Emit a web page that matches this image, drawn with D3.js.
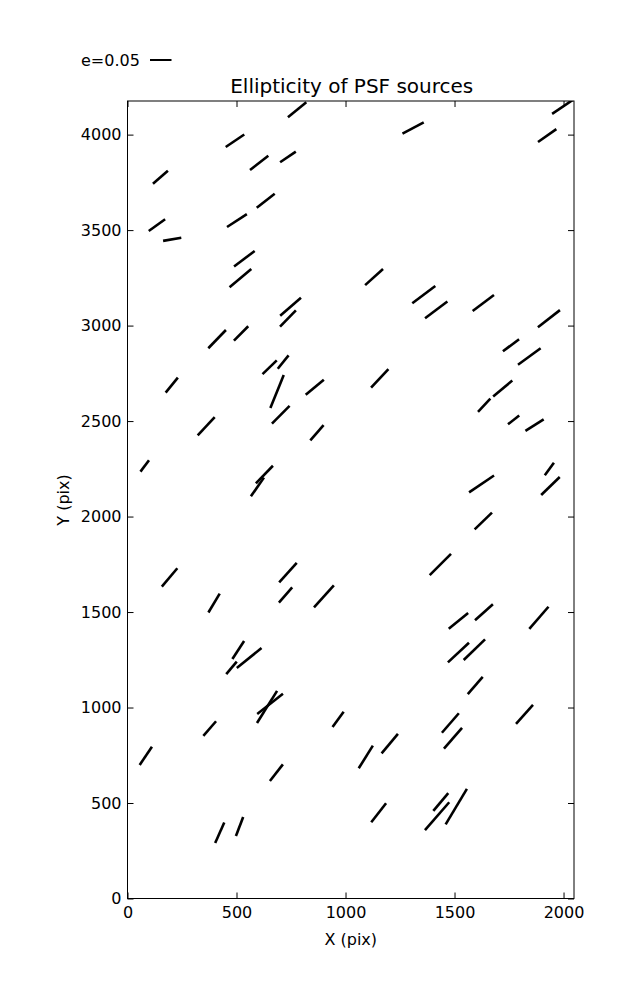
<!DOCTYPE html>
<html>
<head>
<meta charset="utf-8">
<script src="https://cdn.jsdelivr.net/npm/d3@7"></script>
<style>
  html, body { margin: 0; padding: 0; background: #fff; }
  svg { display: block; }
  text { font-family: "DejaVu Sans", sans-serif; fill: #000; }
</style>
</head>
<body>
<svg id="chart" width="637" height="1000"></svg>
<script>
// Source positions on the detector (pix), ellipticity and position angle (deg)
const srcX = [778,493,604,736,151,634,135,205,502,536,518,1310,1995,1925,1131,1359,1632,1416,1933,1759,1843,1157,1721,1636,1771,1867,1935,1940,1624,748,736,411,521,652,714,686,203,859,703,361,869,79,628,596,193,397,736,725,901,508,558,477,1632,1435,1518,1635,1887,1518,1591,1595,640,654,377,966,84,683,423,514,1821,1481,1493,1093,1203,1152,1437,1420,1508];
const srcY = [4130,3968,3852,3883,3777,3654,3526,3452,3550,3350,3248,4035,4145,3995,3254,3162,3118,3082,3036,2897,2838,2724,2670,2583,2506,2479,2249,2160,2171,3099,3037,2929,2959,2782,2809,2655,2688,2677,2533,2473,2439,2265,2220,2155,1681,1547,1707,1589,1582,1301,1259,1208,1977,1749,1454,1499,1470,1288,1303,1115,1003,1019,890,938,747,659,344,377,964,919,839,741,811,449,505,431,481];
const ellip = [0.055,0.052,0.054,0.044,0.046,0.053,0.047,0.043,0.055,0.060,0.066,0.056,0.058,0.052,0.056,0.067,0.062,0.065,0.065,0.047,0.065,0.059,0.058,0.042,0.033,0.050,0.036,0.060,0.070,0.064,0.053,0.059,0.047,0.046,0.040,0.083,0.045,0.055,0.058,0.058,0.047,0.033,0.057,0.053,0.056,0.051,0.061,0.047,0.069,0.050,0.074,0.038,0.056,0.070,0.058,0.056,0.068,0.067,0.069,0.053,0.088,0.076,0.045,0.044,0.051,0.049,0.052,0.047,0.059,0.060,0.064,0.062,0.059,0.056,0.054,0.086,0.096];
const angleDeg = [39,34,38,34,41,38,36,10,33,37,40,28,34,35,42,37,37,37,38,37,36,47,40,47,38,32,54,44,34,41,46,46,45,44,51,68,51,40,45,47,49,53,46,55,50,59,48,49,48,57,39,50,44,45,39,42,49,43,44,49,58,38,49,54,56,52,66,69,48,49,49,58,50,52,50,49,59];

const xTicks = [0,500,1000,1500,2000];
const yTicks = [0,500,1000,1500,2000,2500,3000,3500,4000];
const refE = 0.05;

const svg = d3.select("#chart");
const L = 127.5, R = 574, T = 101, B = 898.5;
const x = d3.scaleLinear().domain([0, 2048]).range([L, R]);
const y = d3.scaleLinear().domain([0, 4176]).range([B, T]);
const len = d3.scaleLinear().domain([0, 0.05]).range([0, 21.5]);

svg.append("clipPath").attr("id", "plotclip")
  .append("rect").attr("x", L).attr("y", T).attr("width", R - L).attr("height", B - T);

// whiskers
const data = srcX.map((d, i) => ({x: d, y: srcY[i], e: ellip[i], a: angleDeg[i] * Math.PI / 180}));
svg.append("g").attr("clip-path", "url(#plotclip)")
  .selectAll("line").data(data).join("line")
  .attr("x1", d => x(d.x) - len(d.e) / 2 * Math.cos(d.a))
  .attr("y1", d => y(d.y) + len(d.e) / 2 * Math.sin(d.a))
  .attr("x2", d => x(d.x) + len(d.e) / 2 * Math.cos(d.a))
  .attr("y2", d => y(d.y) - len(d.e) / 2 * Math.sin(d.a))
  .attr("stroke", "#000").attr("stroke-width", 2.6).attr("stroke-linecap", "butt");

// axes (ticks inward on all sides)
const tl = 6;
const axB = svg.append("g").attr("transform", `translate(0,${B})`)
  .call(d3.axisBottom(x).tickValues(xTicks).tickSize(-tl).tickPadding(8).tickFormat(d3.format("d")));
const axT = svg.append("g").attr("transform", `translate(0,${T})`)
  .call(d3.axisTop(x).tickValues(xTicks).tickSize(-tl).tickFormat(""));
const axL = svg.append("g").attr("transform", `translate(${L},0)`)
  .call(d3.axisLeft(y).tickValues(yTicks).tickSize(-tl).tickPadding(6).tickFormat(d3.format("d")));
const axR = svg.append("g").attr("transform", `translate(${R},0)`)
  .call(d3.axisRight(y).tickValues(yTicks).tickSize(-tl).tickFormat(""));
[axB, axT, axL, axR].forEach(g => {
  g.select(".domain").remove();
  g.selectAll(".tick line").attr("stroke", "#000").attr("stroke-width", 1);
  g.selectAll(".tick text").attr("font-size", 16).attr("font-family", "DejaVu Sans").attr("fill", "#000");
});
svg.append("rect").attr("x", L).attr("y", T).attr("width", R - L).attr("height", B - T)
  .attr("fill", "none").attr("stroke", "#000").attr("stroke-width", 1);

// labels
svg.append("text").attr("x", (L + R) / 2 + 1).attr("y", 93).attr("text-anchor", "middle")
  .attr("font-size", 20).text("Ellipticity of PSF sources");
svg.append("text").attr("x", (L + R) / 2).attr("y", 945).attr("text-anchor", "middle")
  .attr("font-size", 16).text("X (pix)");
svg.append("text").attr("transform", "translate(69,500) rotate(-90)").attr("text-anchor", "middle")
  .attr("font-size", 16).text("Y (pix)");

// reference key
svg.append("text").attr("x", 81).attr("y", 66).attr("font-size", 16).text("e=" + refE.toFixed(2));
svg.append("line").attr("x1", 150).attr("x2", 150 + len(refE)).attr("y1", 60).attr("y2", 60)
  .attr("stroke", "#000").attr("stroke-width", 2);
</script>
</body>
</html>
